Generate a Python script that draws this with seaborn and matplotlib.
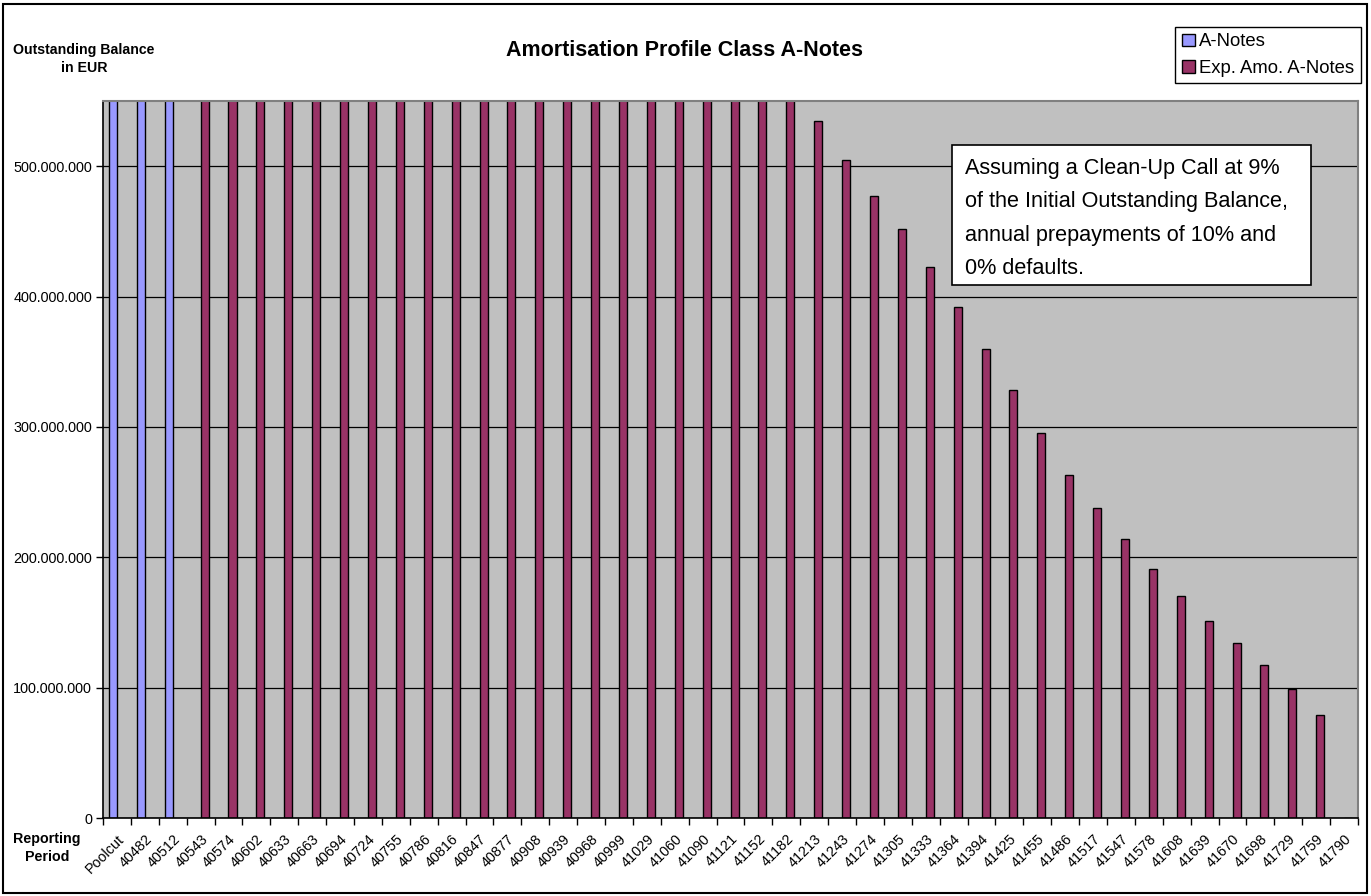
import pandas as pd
import matplotlib.pyplot as plt
import seaborn as sns
from matplotlib.patches import Rectangle, Patch
from matplotlib.ticker import FuncFormatter, FixedLocator

# reporting periods (Excel serial dates as shown on the axis)
periods = ["Poolcut", "40482", "40512", "40543", "40574", "40602", "40633", "40663",
           "40694", "40724", "40755", "40786", "40816", "40847", "40877", "40908",
           "40939", "40968", "40999", "41029", "41060", "41090", "41121", "41152",
           "41182", "41213", "41243", "41274", "41305", "41333", "41364", "41394",
           "41425", "41455", "41486", "41517", "41547", "41578", "41608", "41639",
           "41670", "41698", "41729", "41759", "41790"]

# actual A-Notes balance (clipped above the axis top in the picture)
a_notes_periods = ["Poolcut", "40482", "40512"]
a_notes = [563e6, 563e6, 563e6]

# expected amortisation A-Notes (values up to 41182 are clipped above 550m)
exp_amo_periods = periods[3:]
exp_amo = [563e6] * 22 + [
    535e6, 505e6, 477e6, 452e6, 423e6, 392e6, 360e6, 328e6, 295e6, 263e6,
    238e6, 214e6, 191e6, 170e6, 151e6, 134e6, 117e6, 99e6, 79e6, 0]

series_names = ["A-Notes", "Exp. Amo. A-Notes"]
colors = ["#9999FF", "#993366"]

df = pd.concat([
    pd.DataFrame({"period": a_notes_periods, "balance": a_notes, "series": series_names[0]}),
    pd.DataFrame({"period": exp_amo_periods, "balance": exp_amo, "series": series_names[1]}),
])

W, H = 1371, 896
plt.rcParams['font.family'] = ['Liberation Sans', 'DejaVu Sans']

fig = plt.figure(figsize=(W / 100, H / 100), dpi=100)
ax = fig.add_axes([103 / W, 1 - 818 / H, (1358 - 103) / W, (818 - 101) / H])
ax.set_facecolor("#C0C0C0")

sns.barplot(data=df, x="period", y="balance", hue="series", order=periods,
            hue_order=series_names, palette=colors, saturation=1, width=0.58, dodge=True,
            errorbar=None, edgecolor="black", linewidth=1, legend=False, ax=ax)

ax.set_xlim(-0.5, len(periods) - 0.5)
ax.set_ylim(0, 550e6)
ax.set_yticks([0, 100e6, 200e6, 300e6, 400e6, 500e6])
ax.yaxis.set_major_formatter(FuncFormatter(lambda v, p: f"{int(v):,}".replace(",", ".")))
ax.grid(axis="y", color="black", linewidth=0.9)
ax.set_axisbelow(True)

# labels at slot centres, tick marks at slot boundaries
ax.set_xticks(range(len(periods)))
ax.set_xticklabels(periods, rotation=45, ha="right", va="top", rotation_mode="anchor", fontsize=10.4)
ax.xaxis.set_minor_locator(FixedLocator([i - 0.5 for i in range(len(periods) + 1)]))
ax.tick_params(axis="x", which="major", length=0, pad=10)
ax.tick_params(axis="x", which="minor", length=5, width=1, color="black")
ax.tick_params(axis="y", length=5, width=1, labelsize=10.4, pad=3)
ax.set_xlabel("")
ax.set_ylabel("")

for s in ["left", "bottom"]:
    ax.spines[s].set_color("black")
    ax.spines[s].set_linewidth(1.2)
for s in ["top", "right"]:
    ax.spines[s].set_color("#808080")
    ax.spines[s].set_linewidth(1.5)

fig.text(685 / W, 1 - 51 / H, "Amortisation Profile Class A-Notes", ha="center", va="center",
         fontsize=15.5, fontweight="bold")
fig.text(84 / W, 1 - 59 / H, "Outstanding Balance\nin EUR", ha="center", va="center",
         fontsize=10.2, fontweight="bold", linespacing=1.45)
fig.text(47 / W, 1 - 848 / H, "Reporting\nPeriod", ha="center", va="center",
         fontsize=10.3, fontweight="bold", linespacing=1.45)

handles = [Patch(facecolor=c, edgecolor="black", linewidth=1) for c in colors]
leg = fig.legend(handles, series_names, loc="upper right",
                 bbox_to_anchor=(1361 / W, 1 - 27 / H), fontsize=13.3, frameon=True,
                 fancybox=False, edgecolor="black", framealpha=1, borderpad=0.35,
                 handlelength=0.7, handleheight=0.7, handletextpad=0.25, labelspacing=0.5,
                 borderaxespad=0)
leg.get_frame().set_linewidth(1)

# note box
fig.add_artist(Rectangle((952 / W, 1 - 285 / H), (1311 - 952) / W, (285 - 145) / H,
                         transform=fig.transFigure, facecolor="white", edgecolor="black",
                         linewidth=1.2, zorder=5))
fig.text(965 / W, 1 - 158 / H,
         "Assuming a Clean-Up Call at 9%\nof the Initial Outstanding Balance,\n"
         "annual prepayments of 10% and\n0% defaults.",
         ha="left", va="top", fontsize=15.6, linespacing=1.78, zorder=6)

# outer chart border
fig.add_artist(Rectangle((3 / W, 3 / H), (W - 7) / W, (H - 7) / H, transform=fig.transFigure,
                         facecolor="none", edgecolor="black", linewidth=1.5))

fig.savefig("out.png", dpi=100)
plt.close(fig)
